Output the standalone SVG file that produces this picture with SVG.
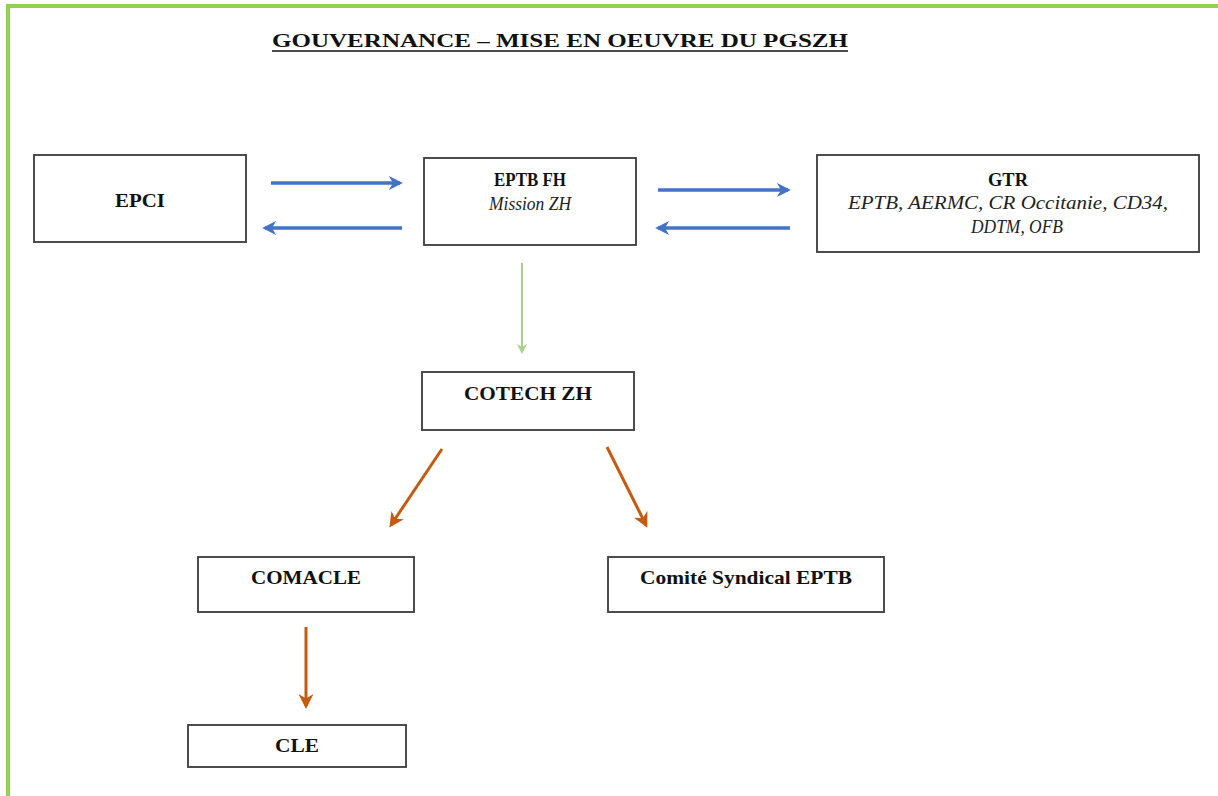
<svg xmlns="http://www.w3.org/2000/svg" width="1218" height="796" viewBox="0 0 1218 796">
<style>
.box{fill:#fff;stroke:#3a3a3a;stroke-width:1.8}
.t{font-family:"Liberation Serif","Times New Roman",serif;font-weight:bold;font-size:19px;fill:#111;text-anchor:middle}
.i{font-family:"Liberation Serif","Times New Roman",serif;font-style:italic;font-size:18px;fill:#222;text-anchor:middle}
.blue{stroke:#4472C4;stroke-width:3.5;fill:none}
.orange{stroke:#C55A11;stroke-width:3;fill:none}
.green{stroke:#A9D18E;stroke-width:2;fill:none}
</style>
<defs>
<marker id="hb" viewBox="0 0 10 10" refX="8" refY="5" markerWidth="4" markerHeight="4" orient="auto" markerUnits="strokeWidth">
<path d="M0,0 L10,5 L0,10 L3,5 z" fill="#4472C4"/>
</marker>
<marker id="ho" viewBox="0 0 10 10" refX="8" refY="5" markerWidth="5" markerHeight="5" orient="auto" markerUnits="strokeWidth">
<path d="M0,0 L10,5 L0,10 L3,5 z" fill="#C55A11"/>
</marker>
<marker id="hg" viewBox="0 0 10 10" refX="8" refY="5" markerWidth="5" markerHeight="5" orient="auto" markerUnits="strokeWidth">
<path d="M0,0 L10,5 L0,10 L3,5 z" fill="#A9D18E"/>
</marker>
</defs>
<rect width="1218" height="796" fill="#fff"/>
<g id="frame">
<path d="M8,796 L8,6 L1218,6" fill="none" stroke="#92D050" stroke-width="4"/>
</g>
<g id="title">
<text x="560" y="47" class="t" font-size="22" textLength="576" lengthAdjust="spacingAndGlyphs">GOUVERNANCE – MISE EN OEUVRE DU PGSZH</text>
<line x1="272" y1="51" x2="848" y2="51" stroke="#111" stroke-width="1.5"/>
</g>
<g id="connectors">
<line class="blue" x1="271" y1="183" x2="400" y2="183" marker-end="url(#hb)"/>
<line class="blue" x1="402" y1="228" x2="265" y2="228" marker-end="url(#hb)"/>
<line class="blue" x1="658" y1="190" x2="788" y2="190" marker-end="url(#hb)"/>
<line class="blue" x1="790" y1="228" x2="658" y2="228" marker-end="url(#hb)"/>
<line class="green" x1="522" y1="263" x2="522" y2="352" marker-end="url(#hg)"/>
<line class="orange" x1="442" y1="449" x2="391" y2="525" marker-end="url(#ho)"/>
<line class="orange" x1="607" y1="447" x2="646" y2="525" marker-end="url(#ho)"/>
<line class="orange" x1="306" y1="627" x2="306" y2="706" marker-end="url(#ho)"/>
</g>
<g id="epci">
<rect class="box" x="34" y="155" width="212" height="87"/>
<text class="t" x="140" y="207" textLength="50" lengthAdjust="spacingAndGlyphs">EPCI</text>
</g>
<g id="eptb">
<rect class="box" x="424" y="158" width="212" height="87"/>
<text class="t" x="530" y="186" textLength="72" lengthAdjust="spacingAndGlyphs">EPTB FH</text>
<text class="i" x="530" y="210" textLength="82" lengthAdjust="spacingAndGlyphs">Mission ZH</text>
</g>
<g id="gtr">
<rect class="box" x="817" y="155" width="382" height="97"/>
<text class="t" x="1008" y="186" textLength="40" lengthAdjust="spacingAndGlyphs">GTR</text>
<text class="i" x="1008" y="209" textLength="320" lengthAdjust="spacingAndGlyphs">EPTB, AERMC, CR Occitanie, CD34,</text>
<text class="i" x="1017" y="233" textLength="92" lengthAdjust="spacingAndGlyphs">DDTM, OFB</text>
</g>
<g id="cotech">
<rect class="box" x="422" y="372" width="212" height="58"/>
<text class="t" x="528" y="400" textLength="128" lengthAdjust="spacingAndGlyphs">COTECH ZH</text>
</g>
<g id="comacle">
<rect class="box" x="198" y="557" width="216" height="55"/>
<text class="t" x="306" y="584" textLength="110" lengthAdjust="spacingAndGlyphs">COMACLE</text>
</g>
<g id="comite">
<rect class="box" x="608" y="557" width="276" height="55"/>
<text class="t" x="746" y="584" textLength="212" lengthAdjust="spacingAndGlyphs">Comité Syndical EPTB</text>
</g>
<g id="cle">
<rect class="box" x="188" y="725" width="218" height="42"/>
<text class="t" x="297" y="752" textLength="44" lengthAdjust="spacingAndGlyphs">CLE</text>
</g>
</svg>
